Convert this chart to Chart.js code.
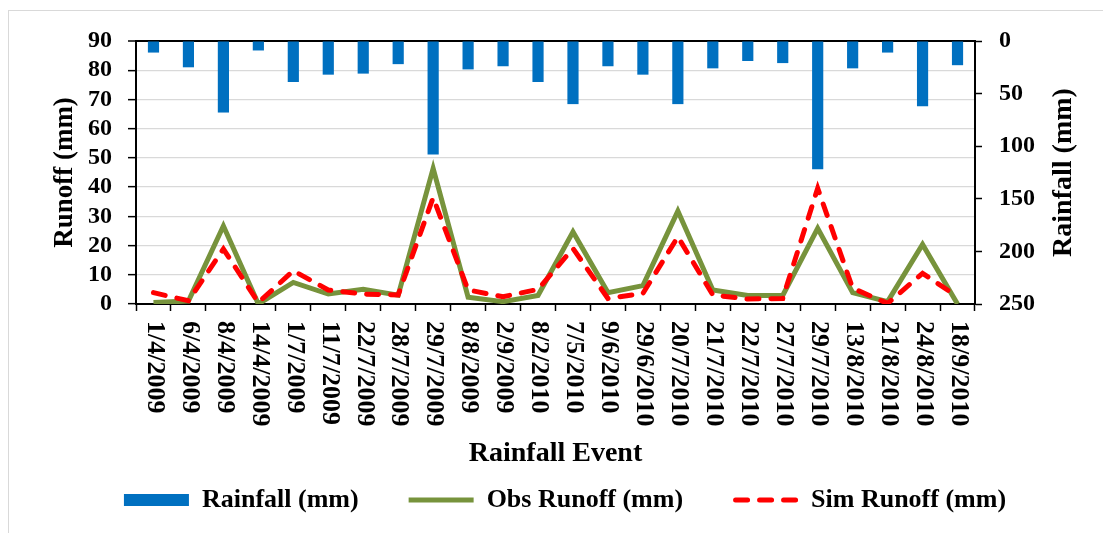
<!DOCTYPE html>
<html>
<head>
<meta charset="utf-8">
<script src="https://cdn.jsdelivr.net/npm/chart.js@4.4.1/dist/chart.umd.min.js"></script>
<style>
  html, body { margin: 0; padding: 0; background: #fff; }
  #wrap { position: relative; width: 1103px; height: 533px; overflow: hidden; }
  #frame { position: absolute; left: 8px; top: 10px; width: 1110px; height: 540px; border: 1px solid #d9d9d9; box-sizing: border-box; }
  canvas { position: absolute; left: 0; top: 0; }
</style>
</head>
<body>
<div id="wrap">
  <div id="frame"></div>
  <canvas id="runoffChart" width="1103" height="533"></canvas>
</div>
<script>
const events = ['1/4/2009', '6/4/2009', '8/4/2009', '14/4/2009', '1/7/2009', '11/7/2009',
    '22/7/2009', '28/7/2009', '29/7/2009', '8/8/2009', '2/9/2009', '8/2/2010',
    '7/5/2010', '9/6/2010', '29/6/2010', '20/7/2010', '21/7/2010', '22/7/2010',
    '27/7/2010', '29/7/2010', '13/8/2010', '21/8/2010', '24/8/2010', '18/9/2010'];

const rainfall = [11, 25, 68, 9, 39, 32, 31, 22, 108, 27, 24, 39,
    60, 24, 32, 60, 26, 19, 21, 122, 26, 11, 62, 23];

const obsRunoff = [0.5, 1, 26.7, 0, 7.4, 3.4, 5, 3, 46.4, 2.3, 0.8, 2.9,
    24.7, 3.9, 6.3, 31.8, 4.8, 2.9, 2.9, 25.9, 3.9, 0.8, 20.4, 0];

const simRunoff = [3.9, 1.1, 18.8, 0.5, 11.4, 4.8, 3.4, 3.1, 36.4, 4.8, 2.5, 5,
    19, 1.9, 3.6, 23, 3.1, 1.7, 1.9, 39.6, 5.4, 0.2, 10.5, 2.5];

const runoffTicks = [0, 90, 10];
const rainTicks = [0, 250, 50];

const SERIF = '"Liberation Serif", "Times New Roman", serif';
Chart.defaults.font.family = SERIF;
Chart.defaults.font.weight = 'bold';
Chart.defaults.color = '#000';

const SIM_DASH = [12, 12];

// x labels read top-to-bottom and the right title bottom-to-top, so they are drawn here
const extraText = {
    id: 'extraText',
    afterDraw(chart) {
        const { ctx, scales: { x, y2 } } = chart;
        ctx.save();
        ctx.fillStyle = '#000';
        ctx.font = 'bold 26px ' + SERIF;
        ctx.textAlign = 'left';
        ctx.textBaseline = 'middle';
        events.forEach((lab, i) => {
            ctx.save();
            ctx.translate(x.getPixelForTick(i) + 1, x.top + 17);
            ctx.rotate(Math.PI / 2);
            ctx.fillText(lab, 0, 0);
            ctx.restore();
        });
        ctx.font = 'bold 28px ' + SERIF;
        ctx.textAlign = 'center';
        ctx.translate(y2.right - 21, (y2.top + y2.bottom) / 2);
        ctx.rotate(-Math.PI / 2);
        ctx.fillText('Rainfall (mm)', 0, 0);
        ctx.restore();
    }
};

const ctx = document.getElementById('runoffChart').getContext('2d');
new Chart(ctx, {
    type: 'bar',
    data: {
        labels: events,
        datasets: [{
            type: 'bar',
            label: 'Rainfall (mm)',
            data: rainfall,
            yAxisID: 'y2',
            backgroundColor: '#0070C0',
            borderWidth: 0,
            barPercentage: 0.32,
            categoryPercentage: 1,
            order: 2
        }, {
            type: 'line',
            label: 'Obs Runoff (mm)',
            data: obsRunoff,
            yAxisID: 'y',
            borderColor: '#77933C',
            backgroundColor: '#77933C',
            borderWidth: 5,
            pointRadius: 0,
            tension: 0,
            order: 1
        }, {
            type: 'line',
            label: 'Sim Runoff (mm)',
            data: simRunoff,
            yAxisID: 'y',
            borderColor: '#FF0000',
            backgroundColor: '#FF0000',
            borderWidth: 5,
            borderDash: SIM_DASH,
            borderCapStyle: 'round',
            pointRadius: 0,
            tension: 0,
            order: 0
        }]
    },
    options: {
        responsive: false,
        animation: false,
        layout: { padding: { left: 45, right: 18, top: 41, bottom: 10 } },
        scales: {
            x: {
                ticks: { display: false },
                grid: { drawOnChartArea: false, tickLength: 7, tickColor: '#000', tickWidth: 1.5 },
                border: { color: '#000', width: 2 },
                title: {
                    display: true,
                    text: 'Rainfall Event',
                    font: { size: 28, weight: 'bold' },
                    padding: { top: 0, bottom: -34 }
                },
                afterFit: s => { s.height = 133; }
            },
            y: {
                position: 'left',
                min: runoffTicks[0],
                max: runoffTicks[1],
                ticks: { stepSize: runoffTicks[2], autoSkip: false, padding: 16, font: { size: 24 } },
                grid: {
                    color: c => (c.tick && (c.tick.value === 0 || c.tick.value === 90)) ? '#000' : '#d9d9d9',
                    lineWidth: c => (c.tick && c.tick.value === 90) ? 2 : 1.3,
                    tickColor: '#000',
                    tickWidth: 1.5,
                    tickLength: 8
                },
                border: { color: '#000', width: 2 },
                title: {
                    display: true,
                    text: 'Runoff (mm)',
                    font: { size: 27, weight: 'bold' },
                    padding: { top: 4, bottom: 0 }
                },
                afterFit: s => { s.width = 91; }
            },
            y2: {
                position: 'right',
                reverse: true,
                min: rainTicks[0],
                max: rainTicks[1],
                ticks: { stepSize: rainTicks[2], autoSkip: false, padding: 17, font: { size: 24 } },
                grid: { drawOnChartArea: false, tickColor: '#000', tickWidth: 1.5, tickLength: 7 },
                border: { color: '#000', width: 2 },
                afterFit: s => { s.width = 110; }
            }
        },
        plugins: {
            tooltip: { enabled: false },
            legend: {
                position: 'bottom',
                labels: {
                    usePointStyle: true,
                    pointStyleWidth: 65,
                    boxHeight: 12,
                    padding: 50,
                    color: '#000',
                    font: { size: 26, weight: 'bold' },
                    sort: (a, b) => a.datasetIndex - b.datasetIndex,
                    generateLabels: chart => {
                        const items = Chart.defaults.plugins.legend.labels.generateLabels(chart);
                        items.forEach(it => {
                            const ds = chart.data.datasets[it.datasetIndex];
                            if (ds.type === 'bar') {
                                it.pointStyle = 'rect';
                                it.fillStyle = ds.backgroundColor;
                                it.lineWidth = 0;
                            } else {
                                it.pointStyle = 'line';
                                it.strokeStyle = ds.borderColor;
                                it.lineWidth = ds.borderWidth;
                                it.lineDash = ds.borderDash || [];
                                it.lineDashOffset = -2.5;
                                it.lineCap = ds.borderCapStyle || 'butt';
                            }
                        });
                        return items;
                    }
                }
            }
        }
    },
    plugins: [extraText]
});
</script>
</body>
</html>
